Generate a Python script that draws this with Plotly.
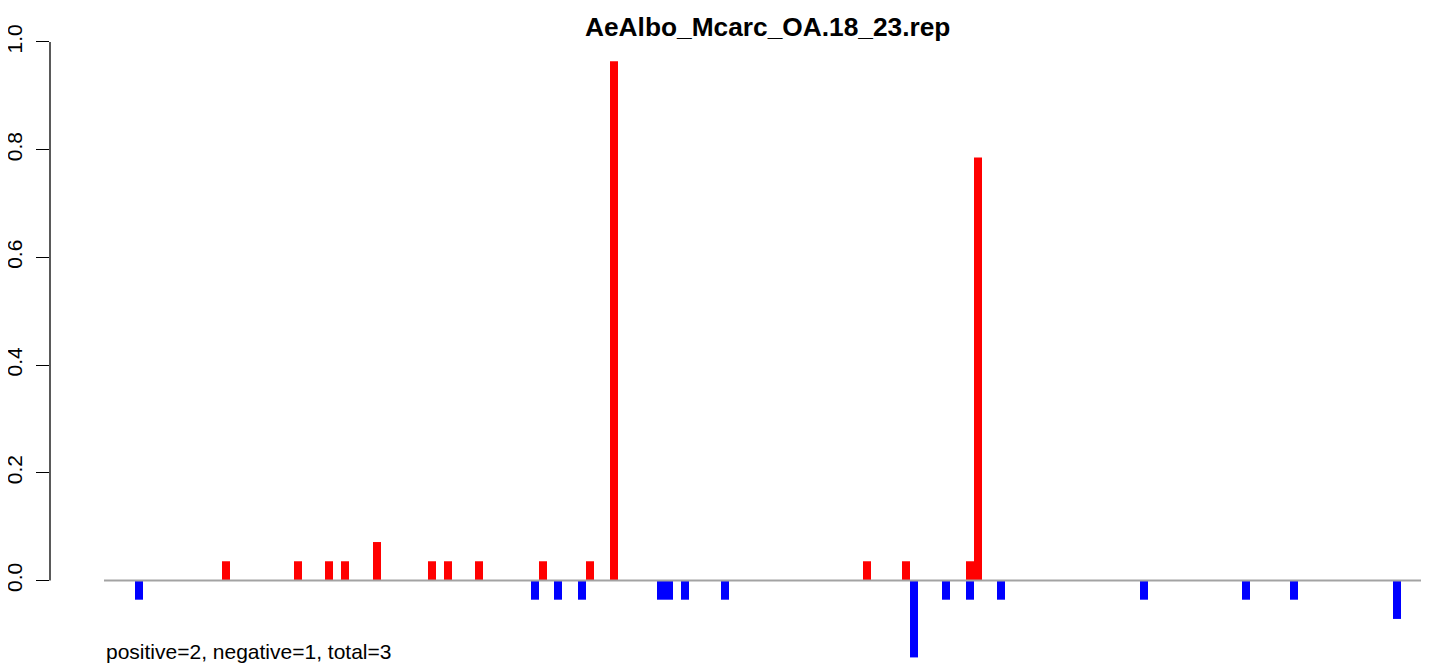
import plotly.graph_objects as go

# positions along the sequence (arbitrary units) and signal values
pos_pos = [122, 194, 225, 241, 273, 328, 344, 375, 439, 486, 510, 763, 802, 866, 874]
pos_val = [0.0357, 0.0357, 0.0357, 0.0357, 0.0714, 0.0357, 0.0357, 0.0357,
           0.0357, 0.0357, 0.9643, 0.0357, 0.0357, 0.0357, 0.7857]

neg_pos = [35, 431, 454, 478, 557, 565, 581, 621, 810, 842, 866, 897, 1040, 1142, 1190, 1293]
neg_val = [-0.0357, -0.0357, -0.0357, -0.0357, -0.0357, -0.0357, -0.0357, -0.0357,
           -0.1429, -0.0357, -0.0357, -0.0357, -0.0357, -0.0357, -0.0357, -0.0714]

line_start = 0
line_end = 1400

y_ticks = [0.0, 0.2, 0.4, 0.6, 0.8, 1.0]
y_labels = ["0.0", "0.2", "0.4", "0.6", "0.8", "1.0"]

title = "AeAlbo_Mcarc_OA.18_23.rep"
summary = "positive=2, negative=1, total=3"

FONT = "Liberation Sans, Arial, sans-serif"

fig = go.Figure()
fig.add_trace(go.Scatter(x=[line_start, line_end], y=[0, 0], mode="lines",
                         line=dict(color="#A3A3A3", width=2), hoverinfo="skip"))
fig.add_trace(go.Bar(x=pos_pos, y=pos_val, width=8, marker=dict(color="#FF0000", line=dict(width=0))))
fig.add_trace(go.Bar(x=neg_pos, y=neg_val, width=8, marker=dict(color="#0000FF", line=dict(width=0))))

fig.update_layout(
    width=1421, height=656,
    margin=dict(l=42, r=0, t=2, b=0, autoexpand=False),
    paper_bgcolor="white", plot_bgcolor="white",
    showlegend=False, barmode="overlay",
    font=dict(family=FONT, size=21, color="black"),
    xaxis=dict(range=[-54, 1325], showgrid=False, zeroline=False, showline=False,
               showticklabels=False, ticks="", automargin=False),
    yaxis=dict(range=[-0.1551, 1.0594], showgrid=False, zeroline=False, showline=False,
               automargin=False,
               tickmode="array", tickvals=y_ticks, ticktext=y_labels,
               ticks="outside", ticklen=13, tickwidth=1, tickcolor="black",
               tickangle=-90, ticklabelstandoff=6,
               tickfont=dict(family=FONT, size=21, color="black")),
    shapes=[dict(type="line", xref="paper", yref="y", x0=0, x1=0, y0=0, y1=1.0,
                 line=dict(color="black", width=1.3))],
    annotations=[
        dict(text="<b>" + title + "</b>", xref="x", yref="y", x=663, y=1.028,
             xanchor="center", yanchor="middle", showarrow=False,
             font=dict(family=FONT, size=26.3, color="black")),
        dict(text=summary, xref="x", yref="y", x=0, y=-0.131, xanchor="left",
             yanchor="middle", showarrow=False,
             font=dict(family=FONT, size=21, color="black")),
    ],
)

fig.write_html("out.html")
